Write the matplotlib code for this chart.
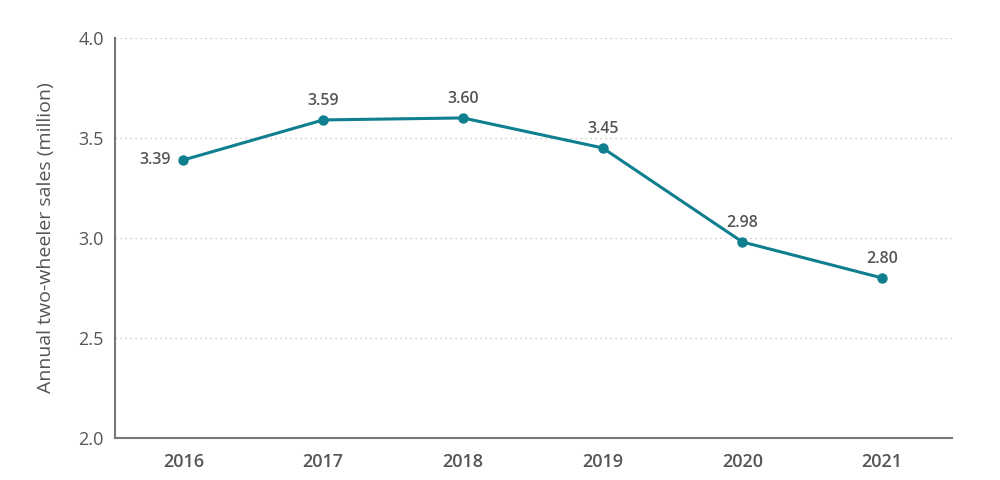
import matplotlib.pyplot as plt

# data
years = ['2016', '2017', '2018', '2019', '2020', '2021']
sales = [3.39, 3.59, 3.60, 3.45, 2.98, 2.80]
yticks = [2.0, 2.5, 3.0, 3.5, 4.0]

teal = '#0f7f90'
grey = '#555555'

plt.rcParams['font.family'] = ['Open Sans', 'DejaVu Sans']

fig = plt.figure(figsize=(10, 4.8), dpi=100)
ax = fig.add_axes([0.115, 0.0875, 0.837, 0.8335])

x = list(range(len(years)))
ax.plot(x, sales, color=teal, lw=2.2, marker='o', ms=6.5, zorder=3)

# value labels
for i, v in enumerate(sales):
    if i == 0:
        ax.annotate(f'{v:.2f}', (i, v), xytext=(-9, 0), textcoords='offset points',
                    ha='right', va='center', fontsize=11.5, color=grey, fontweight='semibold')
    else:
        ax.annotate(f'{v:.2f}', (i, v), xytext=(0, 8), textcoords='offset points',
                    ha='center', va='bottom', fontsize=11.5, color=grey, fontweight='semibold')

ax.set_xlim(-0.49, 5.5)
ax.set_ylim(2.0, 4.0)
ax.set_xticks(x)
ax.set_xticklabels(years, fontsize=13, color=grey, fontweight='semibold')
ax.set_yticks(yticks)
ax.set_yticklabels([f'{t:.1f}' for t in yticks], fontsize=13, color=grey)
ax.tick_params(length=0, pad=8)
ax.tick_params(axis='x', pad=11)

ax.yaxis.grid(True, linestyle=(0, (1, 3)), color='#bbbbbb', lw=0.9)
ax.set_axisbelow(True)
for s in ['top', 'right']:
    ax.spines[s].set_visible(False)
for s in ['left', 'bottom']:
    ax.spines[s].set_color('#777777')
    ax.spines[s].set_linewidth(1.5)

ax.set_ylabel('Annual two-wheeler sales (million)', fontsize=14, color=grey, labelpad=17)

fig.savefig('out.png')
